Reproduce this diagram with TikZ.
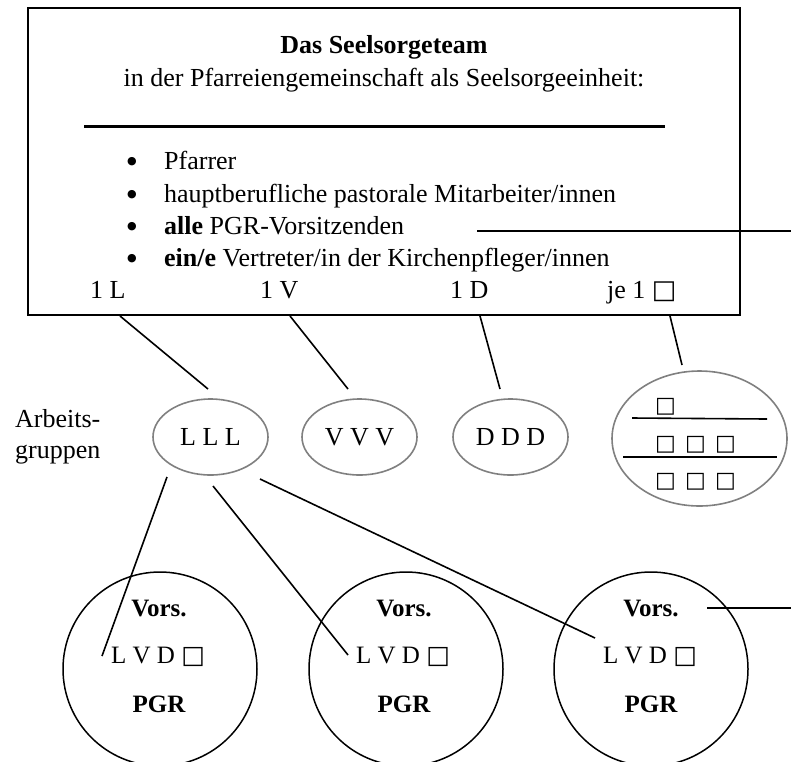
\documentclass[tikz,border=0pt]{standalone}
\usepackage{fontspec}
\setmainfont{Liberation Serif}
\newfontfamily\symfont{DejaVu Sans}
\newcommand{\sqbox}{{\symfont □}}
\begin{document}
\begin{tikzpicture}[x=1pt,y=-1pt,
  every node/.style={font=\fontsize{26}{32}\selectfont, inner sep=0pt},
  txt/.style={anchor=base west},
  ctxt/.style={anchor=base},
  bul/.style={anchor=center, font=\fontsize{11}{11}\selectfont\symfont},
  conn/.style={draw=black, line width=1.6pt},
  grayell/.style={ellipse, draw=black!50, line width=1.6pt, minimum width=115pt, minimum height=76pt},
  pgr/.style={circle, draw=black, line width=1.5pt, minimum size=194pt},
  sqn/.style={font=\fontsize{22}{28}\selectfont\symfont},
]
\usetikzlibrary{shapes.geometric}
\useasboundingbox (0,0) rectangle (791,761);
\clip (0,0) rectangle (791,761);
\fill[white] (0,0) rectangle (791,761);

% top box
\node[draw=black, line width=2pt, minimum width=712pt, minimum height=307pt] (box) at (384,161.5) {};
\node[ctxt, font=\fontsize{26}{32}\selectfont\bfseries] (title) at (384,53) {Das Seelsorgeteam};
\node[ctxt] (sub) at (384,86) {in der Pfarreiengemeinschaft als Seelsorgeeinheit:};
\coordinate (ruleA) at (84,126);
\coordinate (ruleB) at (665,126);
\draw[line width=3pt] (ruleA) -- (ruleB);

\node[bul] (b1) at (132,162) {●};
\node[bul] (b2) at (132,195) {●};
\node[bul] (b3) at (132,227) {●};
\node[bul] (b4) at (132,259) {●};
\node[txt] (t1) at (164,169) {Pfarrer};
\node[txt] (t2) at (164,202) {hauptberufliche pastorale Mitarbeiter/innen};
\node[txt] (t3) at (164,234) {\textbf{alle} PGR-Vorsitzenden};
\node[txt] (t4) at (164,266) {\textbf{ein/e} Vertreter/in der Kirchenpfleger/innen};

\node[txt] (oneL) at (90,298) {1 L};
\node[txt] (oneV) at (260,298) {1 V};
\node[txt] (oneD) at (450,298) {1 D};
\node[txt] (jeone) at (607,298) {je 1 \sqbox};

\coordinate (alleA) at (477,231);
\coordinate (alleB) at (791,231);
\draw[conn] (alleA) -- (alleB);

% Arbeitsgruppen
\node[txt] (arb1) at (15,427) {Arbeits-};
\node[txt] (arb2) at (15,458) {gruppen};

\node[grayell] (lll) at (210.5,437) {L L L};
\node[grayell] (vvv) at (359.5,437) {V V V};
\node[grayell] (ddd) at (510.5,437) {D D D};
\node[ellipse, draw=black!50, line width=1.6pt, minimum width=175pt, minimum height=135pt] (big) at (699.5,438.5) {};

\coordinate (bl1a) at (632,418);
\coordinate (bl1b) at (767,419);
\coordinate (bl2a) at (623,457);
\coordinate (bl2b) at (777,457);
\draw[line width=1.6pt] (bl1a) -- (bl1b);
\draw[line width=1.6pt] (bl2a) -- (bl2b);
\node[sqn] (s1) at (665.5,406.5) {□};
\node[sqn] (s2) at (665.5,444.5) {□};
\node[sqn] (s3) at (695.5,444.5) {□};
\node[sqn] (s4) at (725.5,444.5) {□};
\node[sqn] (s5) at (665.5,482) {□};
\node[sqn] (s6) at (695.5,482) {□};
\node[sqn] (s7) at (725.5,482) {□};

% connectors box -> groups
\coordinate (cL1) at (120,316); \coordinate (cL2) at (208,389);
\coordinate (cV1) at (290,316); \coordinate (cV2) at (348,389);
\coordinate (cD1) at (480,316); \coordinate (cD2) at (500,389);
\coordinate (cS1) at (670,316); \coordinate (cS2) at (682,365);
\draw[conn] (cL1) -- (cL2);
\draw[conn] (cV1) -- (cV2);
\draw[conn] (cD1) -- (cD2);
\draw[conn] (cS1) -- (cS2);

% PGR circles
\node[pgr] (p1) at (160,669) {};
\node[pgr] (p2) at (406,669) {};
\node[pgr] (p3) at (651,669) {};
\foreach \n/\x in {1/159,2/404,3/651}{
  \node[ctxt, font=\fontsize{25}{30}\selectfont\bfseries] (v\n) at (\x,616) {Vors.};
  \node[ctxt, font=\fontsize{25}{30}\selectfont] (l\n) at (\x-1,663) {L V D \sqbox};
  \node[ctxt, font=\fontsize{25}{30}\selectfont\bfseries] (g\n) at (\x,712) {PGR};
}

% connectors LLL -> circles
\coordinate (q1a) at (167,477); \coordinate (q1b) at (102,656);
\coordinate (q2a) at (213,486); \coordinate (q2b) at (348,655);
\coordinate (q3a) at (260,479); \coordinate (q3b) at (595,638);
\draw[conn] (q1a) -- (q1b);
\draw[conn] (q2a) -- (q2b);
\draw[conn] (q3a) -- (q3b);

\coordinate (vA) at (707,608);
\coordinate (vB) at (791,608);
\draw[conn] (vA) -- (vB);
\end{tikzpicture}
\end{document}
